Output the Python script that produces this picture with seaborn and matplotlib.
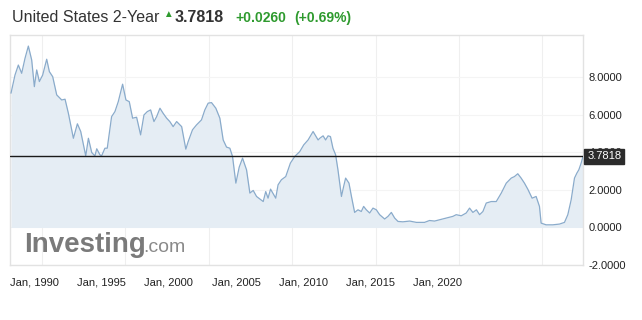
import matplotlib
matplotlib.use("Agg")
import matplotlib.pyplot as plt
import seaborn as sns
import pandas as pd

# ---- data ----
years = [1988.14, 1988.38, 1988.58, 1988.78, 1988.98, 1989.18, 1989.38, 1989.54, 1989.68, 1989.84,
         1990.04, 1990.28, 1990.44, 1990.64, 1990.88, 1991.18, 1991.38, 1991.58, 1991.88, 1992.12,
         1992.32, 1992.62, 1992.78, 1992.98, 1993.17, 1993.28, 1993.47, 1993.57, 1993.77, 1993.91,
         1994.17, 1994.37, 1994.57, 1994.83, 1995.03, 1995.23, 1995.43, 1995.67, 1995.91, 1996.11,
         1996.31, 1996.51, 1996.71, 1996.87, 1997.07, 1997.26, 1997.47, 1997.66, 1997.86, 1998.07,
         1998.37, 1998.62, 1998.76, 1999.02, 1999.26, 1999.56, 1999.76, 1999.96, 2000.16, 2000.42,
         2000.66, 2000.86, 2001.06, 2001.26, 2001.42, 2001.62, 2001.82, 2002.02, 2002.26, 2002.46,
         2002.66, 2002.86, 2003.26, 2003.41, 2003.55, 2003.70, 2004.01, 2004.15, 2004.35, 2004.61,
         2004.89, 2005.15, 2005.45, 2005.69, 2005.95, 2006.25, 2006.55, 2006.65, 2006.85, 2007.00,
         2007.15, 2007.29, 2007.44, 2007.60, 2007.74, 2007.95, 2008.08, 2008.20, 2008.40, 2008.55,
         2008.74, 2008.94, 2009.14, 2009.28, 2009.44, 2009.64, 2009.84, 2010.04, 2010.24, 2010.54,
         2010.74, 2010.94, 2011.14, 2011.34, 2011.63, 2012.04, 2012.44, 2012.93, 2013.23, 2013.53,
         2013.83, 2014.23, 2014.63, 2014.83, 2015.13, 2015.43, 2015.63, 2015.83, 2016.04, 2016.23,
         2016.43, 2016.63, 2016.93, 2017.23, 2017.53, 2017.83, 2018.13, 2018.32, 2018.52, 2018.72,
         2018.92, 2019.12, 2019.38, 2019.62, 2019.82, 2019.92, 2020.22, 2020.62, 2021.02, 2021.32,
         2021.52, 2021.72, 2021.92, 2022.06, 2022.18, 2022.32, 2022.43]
yields = [7.15, 8.12, 8.65, 8.21, 9.01, 9.66, 8.92, 7.50, 8.39, 7.77,
          8.12, 8.96, 8.30, 8.03, 7.06, 6.79, 6.83, 6.08, 4.75, 5.52,
          5.11, 3.81, 4.75, 3.99, 3.81, 4.19, 3.87, 3.81, 4.22, 4.22,
          5.90, 6.17, 6.70, 7.63, 6.79, 6.70, 5.82, 5.87, 4.93, 5.99,
          6.17, 6.26, 5.64, 5.90, 6.35, 6.08, 5.82, 5.64, 5.37, 5.64,
          5.37, 4.17, 4.57, 5.20, 5.46, 5.73, 6.26, 6.62, 6.65, 6.35,
          5.82, 4.66, 4.28, 4.22, 3.78, 2.36, 3.21, 3.69, 3.07, 1.83,
          1.97, 1.65, 1.38, 1.91, 1.56, 2.04, 1.56, 2.27, 2.54, 2.71,
          3.43, 3.78, 4.04, 4.40, 4.66, 5.11, 4.66, 4.75, 4.88, 4.66,
          4.88, 4.84, 4.22, 3.87, 3.07, 1.65, 2.18, 2.63, 2.36, 1.65,
          0.80, 0.94, 0.85, 1.12, 0.94, 0.77, 1.03, 0.94, 0.68, 0.45,
          0.59, 0.80, 0.50, 0.32, 0.30, 0.34, 0.27, 0.27, 0.37, 0.34,
          0.41, 0.50, 0.59, 0.68, 0.62, 0.77, 1.03, 0.80, 0.94, 0.68,
          0.85, 1.30, 1.38, 1.38, 1.83, 2.36, 2.63, 2.71, 2.86, 2.63,
          2.36, 2.04, 1.56, 1.65, 1.12, 0.23, 0.14, 0.14, 0.18, 0.27,
          0.68, 1.47, 2.63, 2.89, 3.07, 3.43, 3.78]
current_value = 3.7818
grid_years = [1990, 1995, 2000, 2005, 2010, 2015, 2020]
tick_labels = ["Jan, 1990", "Jan, 1995", "Jan, 2000", "Jan, 2005", "Jan, 2010", "Jan, 2015", "Jan, 2020"]
y_ticks = [-2, 0, 2, 4, 6, 8]

df = pd.DataFrame({"year": years, "yield": yields})

sns.set_style("white")
plt.rcParams["font.family"] = ["Liberation Sans", "DejaVu Sans"]

W, H = 642, 320
fig = plt.figure(figsize=(W / 100, H / 100), dpi=100)
ax = fig.add_axes([10 / W, 1 - 265 / H, (583 - 10) / W, (265 - 35) / H])

line_c = "#8aabcb"
fill_c = "#e5edf4"
ax.fill_between(df["year"], df["yield"], 0, color=fill_c, lw=0, zorder=1)
sns.lineplot(data=df, x="year", y="yield", ax=ax, color=line_c, lw=0.9, zorder=3)
ax.axhline(current_value, color="#1a1a1a", lw=1.0, zorder=4)

ax.set_xlim(years[0] - 0.06, years[-1])
ax.set_ylim(-2.0, 10.25)

# grid lines at year boundaries (minor), labels placed as in the reference (major)
ax.set_xticks(grid_years, minor=True)
label_pos = [grid_years[0] - 0.48 + i * 4.036 for i in range(len(tick_labels))]
ax.set_xticks(label_pos)
ax.set_xticklabels(tick_labels, fontsize=8, color="#222222")
ax.tick_params(axis="x", which="both", length=0, pad=9)
ax.grid(True, which="minor", axis="x", color="#efefef", lw=0.8)
ax.grid(False, which="major", axis="x")

ax.yaxis.tick_right()
ax.set_yticks(y_ticks)
ax.set_yticklabels([f"{v:.4f}" for v in y_ticks], fontsize=8, color="#222222")
ax.tick_params(axis="y", length=0, pad=4)
ax.grid(True, which="major", axis="y", color="#f4f4f4", lw=0.8)
ax.set_xlabel("")
ax.set_ylabel("")
for s in ax.spines.values():
    s.set_color("#e2e2e2")
    s.set_linewidth(1.0)

# current price box
ax.annotate(f"{current_value:.4f}", xy=(1.0, current_value), xycoords=("axes fraction", "data"),
            xytext=(3, 0), textcoords="offset points", ha="left", va="center",
            fontsize=8, color="white", zorder=6, annotation_clip=False,
            bbox=dict(boxstyle="square,pad=0.25", fc="#2b2b2b", ec="#2b2b2b"))

# header
fig.text(12 / W, 1 - 18 / H, "United States 2-Year", fontsize=11.5, color="#333333", va="center", ha="left")
fig.text(163 / W, 1 - 14 / H, "\u25B2", fontsize=7, color="#2e9a2e", va="center", ha="left")
fig.text(175 / W, 1 - 18 / H, "3.7818", fontsize=11.5, color="#333333", fontweight="bold", va="center", ha="left")
fig.text(235 / W, 1 - 18 / H, "+0.0260", fontsize=10, color="#2e9a2e", fontweight="bold", va="center", ha="left")
fig.text(294 / W, 1 - 18 / H, "(+0.69%)", fontsize=10, color="#2e9a2e", fontweight="bold", va="center", ha="left")

# watermark logo
fig.text(24 / W, 1 - 245 / H, "Investing", fontsize=20, color="#7a7a7a", fontweight="bold", va="center", ha="left", zorder=7)
fig.text(143 / W, 1 - 248 / H, ".com", fontsize=14, color="#8a8a8a", va="center", ha="left", zorder=7)

fig.savefig("out.png", dpi=100)
